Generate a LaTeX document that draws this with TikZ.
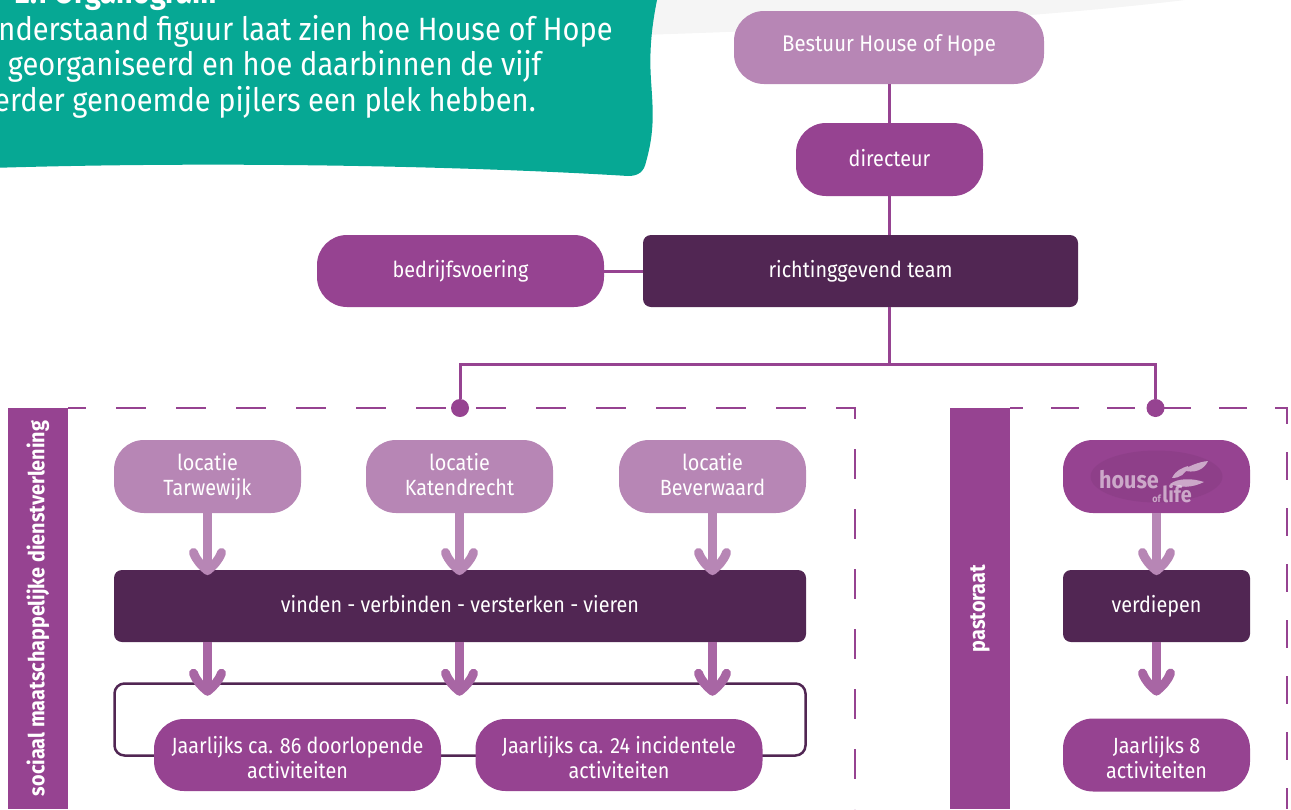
\documentclass[tikz,border=0pt]{standalone}
\usepackage{fontspec}
\setmainfont[FakeStretch=0.9]{Fira Sans}
\usetikzlibrary{calc}

\definecolor{groen}{HTML}{06A894}
\definecolor{paars}{HTML}{964391}
\definecolor{lichtpaars}{HTML}{B786B5}
\definecolor{middenpaars}{HTML}{A866A4}
\definecolor{donker}{HTML}{512653}
\definecolor{grijs}{HTML}{F5F5F5}

\tikzset{
    blok/.style={rounded corners=15pt, text=white, inner sep=0pt, align=center,
        text height=8.5pt, text depth=2pt, font=\fontsize{11}{12.5}\selectfont},
    klein/.style={blok, minimum width=93.5pt, minimum height=36.5pt},
    breed/.style={blok, minimum width=143.5pt, minimum height=36pt},
    hoek/.style={rounded corners=4pt},
    locatie/.style={klein, fill=lichtpaars, text height=21pt},
    jaarlijks/.style={fill=paars, text height=25.5pt},
    lijn/.style={draw=paars, line width=1.5pt},
    stippel/.style={draw=paars, line width=1.35pt},
    punt/.style={circle, fill=paars, minimum size=9pt, inner sep=0pt},
    balk/.style={fill=paars, text=white, rotate=90, minimum width=200.5pt, minimum height=30pt,
        inner sep=0pt, font=\fontsize{11}{12}\selectfont\bfseries},
    logo/.style={text=white, opacity=0.55, inner sep=0pt, font=\fontsize{12}{12}\selectfont\bfseries},
    schacht/.style={line width=4.2pt, shorten >=3pt},
    pijlkop/.pic={
        \draw[line width=4.5pt, line cap=round, line join=round, shorten >=0pt]
            (-14,-23) .. controls (-11,-15) and (-6,-10) .. (0,-5)
            .. controls (6,-10) and (11,-15) .. (14,-23);
    }
}

\begin{document}
\begin{tikzpicture}[x=0.5pt, y=-0.5pt]
    \useasboundingbox (0,0) rectangle (1291,809);

    % achtergrond
    \fill[grijs] (640,0) -- (640,35) .. controls (800,30) and (1020,20) .. (1185,0) -- cycle;
    \fill[groen] (-10,-10) -- (658,-10) -- (657,0) .. controls (652,25) and (649,50) .. (651,80)
        .. controls (653,110) and (655,130) .. (646,162)
        .. controls (644,172) and (638,176) .. (628,176)
        .. controls (500,168) and (250,160) .. (-10,168) -- cycle;

    \node[anchor=base east, text=white, inner sep=0pt, font=\fontsize{16}{17}\selectfont\bfseries]
        (kop) at (217,3) {2.1 Organogram};
    \node[anchor=base west, text=white, font=\fontsize{16.13}{17.75}\selectfont, align=left, inner sep=0pt]
        (intro) at (-22,111) {Onderstaand figuur laat zien hoe House of Hope\\
        is georganiseerd en hoe daarbinnen de vijf\\
        eerder genoemde pijlers een plek hebben.};

    % bovenste deel
    \node[blok, fill=lichtpaars, minimum width=155pt, minimum height=36.5pt, text height=6pt,
        font=\fontsize{11.3}{12.5}\selectfont] (bestuur) at (889,47.5) {Bestuur House of Hope};
    \node[klein, fill=paars] (directeur) at (889.5,159.5) {directeur};
    \node[blok, hoek, fill=donker, minimum width=217.5pt, minimum height=36pt] (team) at (860.5,271) {richtinggevend team};
    \node[breed, fill=paars] (bedrijf) at (460.5,271) {bedrijfsvoering};

    \coordinate (splits) at (889,364);
    \node[punt] (punt1) at (460,408) {};
    \node[punt] (punt2) at (1155.5,408) {};

    \draw[lijn] (bestuur.south -| directeur) -- (directeur);
    \draw[lijn] (directeur) -- (directeur |- team.north);
    \draw[lijn] (bedrijf) -- (team);
    \draw[lijn] (splits |- team.south) -- (splits);
    \draw[lijn] (punt1) |- (splits) -| (punt2);

    % kaders
    \draw[stippel, dash pattern=on 15pt off 15pt, dash phase=6pt] (68,408) -- (855,408) -- (855,809);
    \draw[stippel, dash pattern=on 14pt off 14pt, dash phase=7.5pt] (1010,408) -- (1287,408) -- (1287,809);
    \node[balk] (balk1) at (38,608.5) {sociaal maatschappelijke dienstverlening};
    \node[balk] (balk2) at (980,608.5) {pastoraat};

    % sociaal maatschappelijke dienstverlening
    \node[locatie] (tarwewijk) at (207.5,476.5) {locatie\\Tarwewijk};
    \node[locatie] (katendrecht) at (459.5,476.5) {locatie\\Katendrecht};
    \node[locatie] (beverwaard) at (712.5,476.5) {locatie\\Beverwaard};
    \node[blok, hoek, fill=donker, minimum width=346pt, minimum height=36pt] (vinden) at (460,606) {vinden - verbinden - versterken - vieren};
    \node[draw=donker, line width=1.25pt, rounded corners=5pt, minimum width=345.5pt, minimum height=36pt, inner sep=0pt] (kader) at (460,719.5) {};
    \node[breed, jaarlijks] (doorlopend) at (297.5,755) {Jaarlijks ca. 86 doorlopende\\activiteiten};
    \node[breed, jaarlijks] (incidenteel) at (619,755) {Jaarlijks ca. 24 incidentele\\activiteiten};

    \foreach \bron in {tarwewijk, katendrecht, beverwaard} {
        \draw[schacht, lichtpaars] (\bron.south) -- ($(\bron.south |- vinden.north)+(0,6)$) pic {pijlkop};
        \draw[schacht, middenpaars] (\bron.south |- vinden.south) -- ($(\bron.south |- kader.north)+(0,14)$) pic {pijlkop};
    }

    % pastoraat
    \node[klein, fill=paars] (life) at (1156.5,476.5) {};
    \fill[black!20!paars, opacity=0.25] (life) ellipse (66 and 26);
    \node[logo] (house) at (1129,480) {house};
    \node[logo] (ofl) at (1172,494) {\fontsize{5}{5}\selectfont of\,\fontsize{11}{11}\selectfont life};
    \fill[white, opacity=0.55] (1172,478) .. controls (1176,470) and (1182,468) .. (1188,466)
        .. controls (1186,474) and (1180,478) .. (1172,478)
        (1182,470) .. controls (1190,466) and (1198,462) .. (1208,461)
        .. controls (1204,470) and (1194,474) .. (1182,470)
        (1170,484) .. controls (1178,478) and (1192,478) .. (1204,482)
        .. controls (1192,488) and (1180,488) .. (1170,484);
    \node[blok, hoek, fill=donker, minimum width=93.5pt, minimum height=36pt] (verdiepen) at (1156.5,606) {verdiepen};
    \node[klein, jaarlijks] (acht) at (1156.5,755) {Jaarlijks 8\\activiteiten};
    \draw[schacht, lichtpaars] (life.south) -- ($(verdiepen.north)+(0,6)$) pic {pijlkop};
    \draw[schacht, middenpaars] (verdiepen.south) -- ($(acht.north)+(0,-22)$) pic {pijlkop};
\end{tikzpicture}
\end{document}
